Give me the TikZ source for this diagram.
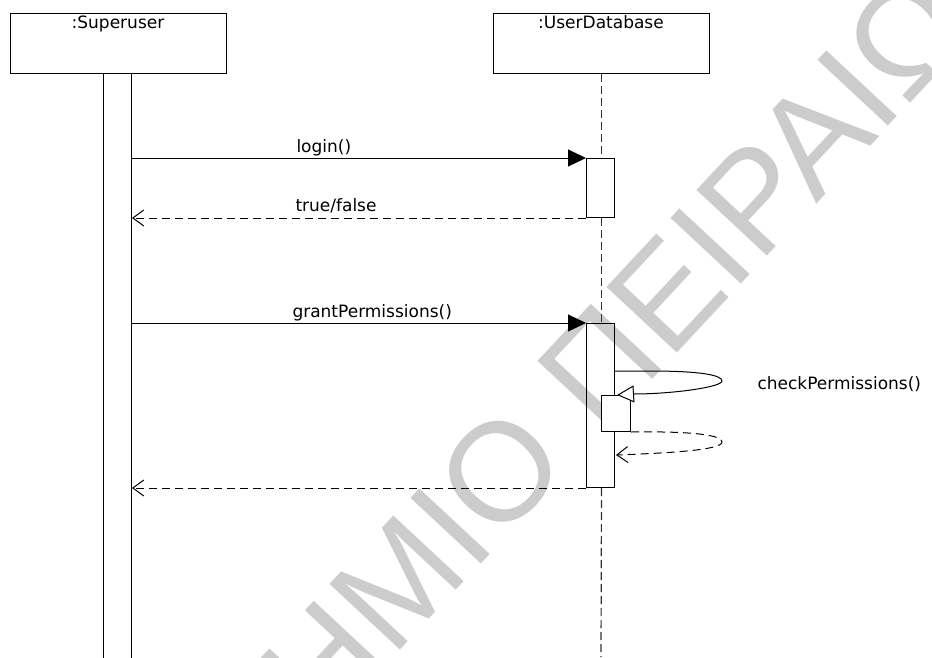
\documentclass[tikz,border=0pt]{standalone}
\usepackage{fontspec}
\setmainfont{DejaVu Sans}
\newfontfamily\wmfont{Liberation Sans}
\usetikzlibrary{arrows.meta}
\begin{document}
\begin{tikzpicture}[x=1pt,y=-1pt,line width=1pt,
  objbox/.style={draw,minimum width=216pt,minimum height=60pt,inner sep=0pt,anchor=north west},
  actbox/.style={draw,minimum width=28pt,inner sep=0pt,anchor=north west},
  lbl/.style={font=\fontsize{17}{20}\selectfont,inner sep=0pt},
  wm/.style={font=\wmfont\fontsize{140}{140}\selectfont,text=black!20,inner sep=0pt,rotate=47},
  callmsg/.style={-{Triangle[length=18pt,width=17pt]}},
  retmsg/.style={dash pattern=on 8pt off 5pt,-{Straight Barb[length=11pt,width=16pt]}},
  lifeline/.style={dash pattern=on 8pt off 4pt,line width=1.2pt,black!80}]
\useasboundingbox (0,0) rectangle (932,657);
% watermark
\node[wm,anchor=base west] (wm2) at (600,436) {ΠΕΙΡΑΙΩΣ};
\node[wm,anchor=base east] (wm1) at (573.5,464.5) {ΠΑΝΕΠΙΣΤΗΜΙΟ};
% objects
\node[objbox] (sup) at (10,13) {};
\node[lbl,anchor=base] (supT) at (118,28) {:Superuser};
\node[objbox] (db) at (493,13) {};
\node[lbl,anchor=base] (dbT) at (601,28) {:UserDatabase};
% activations
\node[actbox,minimum height=600pt] (sa) at (103,73) {};
\node[actbox,minimum height=59pt] (a1) at (586,158) {};
\node[actbox,minimum height=164pt] (a2) at (586,323) {};
\node[actbox,fill=white,minimum height=36pt,minimum width=29pt] (a3) at (601,395) {};
\coordinate (dbEnd) at (601,657);
\coordinate (s1) at (614,371);
\coordinate (r3) at (616,455);
% lifeline
\draw[lifeline] (db.south) -- (db.south |- a1.north);
\draw[lifeline] (db.south |- a1.south) -- (db.south |- a2.north);
\draw[lifeline] (db.south |- a2.south) -- (dbEnd);
% messages
\draw[callmsg] (sa.east |- a1.north west) -- (a1.north west);
\node[lbl,anchor=base west] (m1) at (296,152) {login()};
\draw[retmsg] (a1.south west) -- (sa.east |- a1.south west);
\node[lbl,anchor=base west] (m2) at (295,211) {true/false};
\draw[callmsg] (sa.east |- a2.north west) -- (a2.north west);
\node[lbl,anchor=base west] (m3) at (292,317) {grantPermissions()};
\draw[retmsg] (a2.south west) -- (sa.east |- a2.south west);
% self call
\draw[-{Triangle[open,fill=white,length=17pt,width=17pt]}] (s1) -- ++(36,0) .. controls +(50,0) and +(0,-6) .. (722,381) .. controls +(0,6) and +(40,0) .. (633,394) -- ([xshift=2pt]a3.north -| a2.east);
\node[lbl,anchor=base west] (m4) at (757,389) {checkPermissions()};
\draw[retmsg] (a3.south east) .. controls (700,431) and (722,436) .. (722,442) .. controls (722,450) and (670,453) .. (r3);
\end{tikzpicture}
\end{document}
